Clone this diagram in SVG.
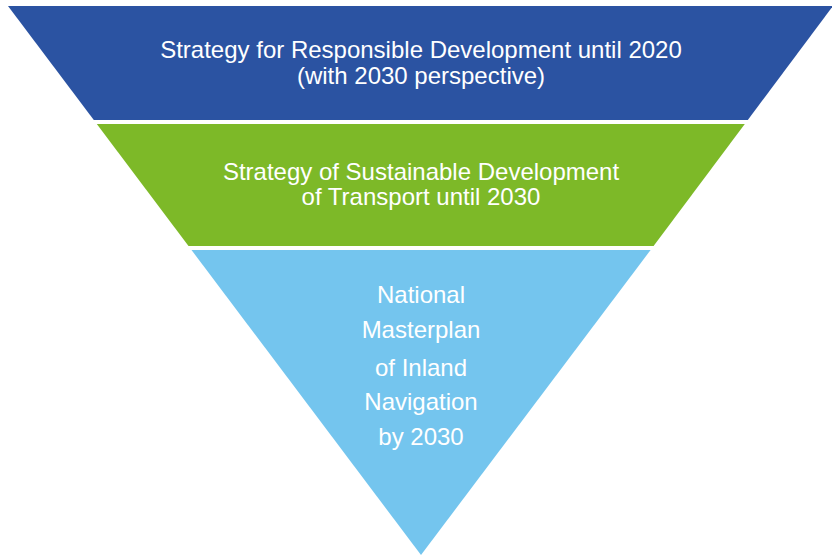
<svg xmlns="http://www.w3.org/2000/svg" width="832" height="556" viewBox="0 0 832 556">
  <style>
    .lbl { font-family: "Liberation Sans", Arial, sans-serif; font-size: 24px; fill: #ffffff; text-anchor: middle; }
  </style>
  <rect width="832" height="556" fill="#ffffff"/>
  <!-- Inverted pyramid: three stacked bands -->
  <g id="tier-strategy-responsible">
    <polygon points="8,6 833,6 747.8,120 93.8,120" fill="#2B53A2"/>
    <text class="lbl" x="421" y="58">Strategy for Responsible Development until 2020</text>
    <text class="lbl" x="421" y="84">(with 2030 perspective)</text>
  </g>
  <g id="tier-transport">
    <polygon points="96.8,124 744.8,124 653.6,246 188.5,246" fill="#7DB928"/>
    <text class="lbl" x="421" y="180">Strategy of Sustainable Development</text>
    <text class="lbl" x="421" y="205">of Transport until 2030</text>
  </g>
  <g id="tier-masterplan">
    <polygon points="191.5,250 650.6,250 421,555" fill="#74C5EE"/>
    <text class="lbl" x="421" y="303">National</text>
    <text class="lbl" x="421" y="338">Masterplan</text>
    <text class="lbl" x="421" y="376">of Inland</text>
    <text class="lbl" x="421" y="410">Navigation</text>
    <text class="lbl" x="421" y="445">by 2030</text>
  </g>
</svg>
